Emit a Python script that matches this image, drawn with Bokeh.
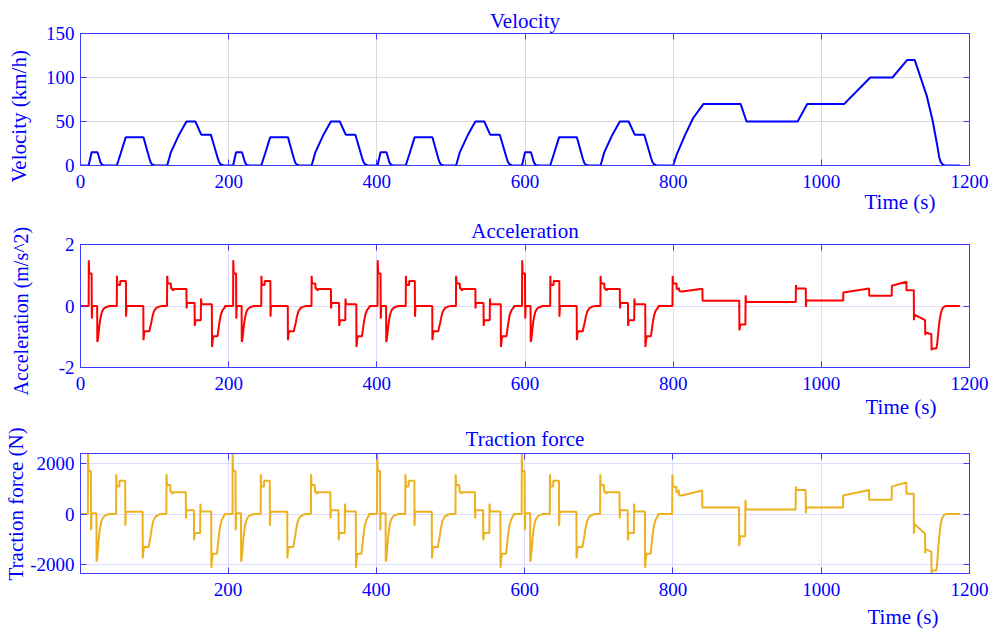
import numpy as np
from bokeh.plotting import figure
from bokeh.layouts import column
from bokeh.models import Range1d, FixedTicker, LinearAxis, Title
from bokeh.embed import file_html
from bokeh.resources import INLINE

# ---------------- data ----------------
ECE_STARTS = [0, 195, 390, 585]          # start of each urban (ECE-15) cycle, s

# velocity, km/h
ece_vel_t = [0, 11, 15, 23, 25.5, 27, 29, 31, 34, 49, 54, 61, 85, 93, 95, 97, 100, 104,
             117, 122, 133, 143, 155, 163, 176, 185, 187, 189, 192, 195]
ece_vel = [0, 0, 15, 15, 8, 3.5, 1, 0.2, 0, 0, 13, 32, 32, 8, 3, 1, 0.2, 0,
           0, 15, 35, 50, 50, 35, 35, 9, 4, 1.5, 0.3, 0]
eudc_vel_t = [780, 800, 805, 816, 827, 841, 891, 899, 968, 981, 1031, 1066, 1096, 1116, 1126,
              1142, 1150, 1156, 1159, 1161, 1164, 1167, 1187]
eudc_vel = [0, 0, 13, 34.5, 54, 70, 70, 50, 50, 70, 70, 100, 100, 120, 120,
            80, 52, 25, 10, 4, 1, 0, 0]

# acceleration, m/s^2
ece_acc_t = [0, 11, 11.2, 11.8, 15.0, 15.3, 15.9, 22.5, 22.7, 23.5, 24.5, 25.5, 26.5, 27.5, 29, 31, 34, 39,
             49, 49.2, 49.8, 53.5, 53.7, 61.3, 61.5, 62.2,
             84.8, 85, 86, 87, 93, 94, 95.5, 97, 99, 102, 106, 110,
             116.8, 117, 117.6, 122, 122.2, 124, 124.1, 126, 126.1, 143,
             143.2, 143.8, 154, 154.2, 155.2, 162.4, 162.7, 163.3, 177.3,
             177.5, 178.5, 179.5, 185, 186, 187.3, 188.5, 189.5, 191.5, 193.5, 195]
ece_acc = [0, 0, 1.49, 1.06, 1.06, -0.41, 0.0, 0.0, -1.17, -1.08, -0.86, -0.64, -0.47, -0.33, -0.19, -0.1, -0.04, 0.0,
           0.0, 0.98, 0.68, 0.68, 0.81, 0.81, -0.35, 0.0,
           0.0, -1.11, -0.88, -0.82, -0.82, -0.7, -0.55, -0.36, -0.18, -0.07, -0.02, 0.0,
           0.0, 0.98, 0.73, 0.73, 0.57, 0.57, 0.52, 0.52, 0.55, 0.55,
           -0.08, 0.1, 0.1, -0.65, -0.46, -0.46, 0.24, 0.06, 0.06,
           -1.33, -1.1, -0.98, -0.98, -0.8, -0.57, -0.4, -0.28, -0.15, -0.08, -0.04]
eudc_acc_t = [780, 799, 799.3, 800, 804.5, 804.7, 807.5, 807.7, 808.5, 812, 839.5, 839.7,
              889.2, 889.4, 890.8, 897.5, 897.8, 898.5, 965.5, 965.7, 966.5, 979, 979.2, 979.8,
              1029.5, 1029.7, 1064.5, 1064.7, 1095, 1095.2, 1114.8, 1115, 1124.8, 1125, 1125.6,
              1140, 1140.3, 1140.8, 1148.5, 1148.8, 1149.5, 1155.3, 1156.5, 1157.5, 1158.5,
              1160, 1161.5, 1163.5, 1166, 1168, 1187]
eudc_acc = [0, 0, 0.98, 0.73, 0.73, 0.55, 0.55, 0.6, 0.48, 0.47, 0.56, 0.17,
            0.17, -0.79, -0.6, -0.6, 0.35, 0.13, 0.13, 0.68, 0.57, 0.57, -0.03, 0.18,
            0.18, 0.44, 0.57, 0.33, 0.33, 0.66, 0.79, 0.51, 0.51, -0.46, -0.28,
            -0.46, -0.95, -0.86, -0.92, -1.44, -1.38, -1.38, -1.2, -0.95, -0.7,
            -0.41, -0.22, -0.08, -0.02, 0, 0]

# traction force, N
ece_force_t = ece_acc_t
ece_force = [0, 0, 2380, 1700, 1700, -640, 30, 30, -1880, -1730, -1380, -1030, -750, -530, -300, -160, -60, 0,
             0, 1570, 1090, 1090, 1310, 1310, -460, 90,
             90, -1750, -1400, -1300, -1300, -1120, -880, -580, -290, -110, -30, 0,
             0, 1570, 1140, 1140, 880, 880, 820, 820, 860, 860,
             -170, 155, 155, -1040, -750, -750, 410, 100, 100,
             -2120, -1750, -1560, -1560, -1280, -910, -640, -450, -240, -120, -60]
eudc_force_t = eudc_acc_t
eudc_force = [0, 0, 1570, 1080, 1080, 860, 860, 960, 735, 735, 926, 255,
              255, -1262, -876, -876, 564, 178, 178, 1081, 950, 950, 23, 255,
              255, 733, 950, 564, 564, 1081, 1247, 797, 797, -772, -386,
              -772, -1544, -1390, -1480, -2340, -2226, -2226, -1900, -1500, -1120,
              -650, -350, -130, -30, 0, 0]

time_ticks = [0, 200, 400, 600, 800, 1000, 1200]
vel_ticks = [0, 50, 100, 150]
vel_tick_labels = ["0", "50", "100", "150"]
acc_ticks = [-2, 0, 2]
acc_tick_labels = ["-2", "0", "2"]
force_ticks = [-2000, 0, 2000]
force_tick_labels = ["-2000", "0", "2000"]


def assemble(ece_t, ece_y, eudc_t, eudc_y):
    t, y = [], []
    for s in ECE_STARTS:
        t += [s + v for v in ece_t]
        y += list(ece_y)
    t += list(eudc_t)
    y += list(eudc_y)
    return t, y


FONT = "Liberation Serif"
TXT = "#0000ff"
AX = "#3c3cff"


def hidden_labels(ax):
    ax.major_label_text_font_size = "1px"
    ax.major_label_text_color = None


def panel(h, top, bottom, x0, y0, y1, yticks, ylabels, title, title_standoff,
          ylabel, ylab_size, ylab_offset, spacer, time_offset, time_standoff, grid_color):
    p = figure(width=994, height=h, output_backend="svg", toolbar_location=None,
               x_range=Range1d(x0, 1200), y_range=Range1d(y0, y1),
               min_border_top=top, min_border_bottom=bottom,
               min_border_left=80, min_border_right=25,
               background_fill_color="white", border_fill_color="white",
               outline_line_color=AX, title=title)
    p.title.align = "center"
    p.title.standoff = title_standoff
    p.title.text_font = FONT
    p.title.text_font_size = "21px"
    p.title.text_font_style = "normal"
    p.title.text_color = TXT
    top_ax = LinearAxis()
    right_ax = LinearAxis()
    p.add_layout(top_ax, "above")
    p.add_layout(right_ax, "right")
    for ax in list(p.xaxis) + list(p.yaxis):
        ax.axis_line_color = AX
        ax.major_tick_line_color = AX
        ax.major_tick_in = 6
        ax.major_tick_out = 0
        ax.minor_tick_line_color = None
        ax.major_label_text_font = FONT
        ax.major_label_text_font_size = "19px"
        ax.major_label_text_color = TXT
    for ax in p.xaxis:
        ax.ticker = FixedTicker(ticks=time_ticks)
        ax.major_label_standoff = 9
    for ax in p.yaxis:
        ax.ticker = FixedTicker(ticks=yticks)
        ax.major_label_standoff = 6
        ax.major_label_overrides = {float(k): s for k, s in zip(yticks, ylabels)}
    for ax in [top_ax, right_ax]:
        hidden_labels(ax)
        ax.major_label_standoff = 0
    # invisible spacer between the tick labels and the y-axis title
    if spacer > 0:
        sp = LinearAxis(ticker=FixedTicker(ticks=yticks), axis_line_color=None,
                        major_tick_line_color=None, minor_tick_line_color=None,
                        major_tick_in=0, major_tick_out=spacer, major_label_standoff=0)
        hidden_labels(sp)
        p.add_layout(sp, "left")
    p.xgrid.ticker = FixedTicker(ticks=time_ticks)
    p.ygrid.ticker = FixedTicker(ticks=yticks)
    p.grid.grid_line_color = grid_color
    p.grid.grid_line_width = 1
    p.add_layout(Title(text=ylabel, align="left", offset=ylab_offset, standoff=0,
                       text_font=FONT, text_font_size=ylab_size,
                       text_font_style="normal", text_color=TXT), "left")
    p.add_layout(Title(text="Time (s)", align="right", offset=time_offset, standoff=time_standoff,
                       text_font=FONT, text_font_size="21px", text_font_style="normal",
                       text_color=TXT), "below")
    return p


t_v, v = assemble(ece_vel_t, ece_vel, eudc_vel_t, eudc_vel)
t_a, a = assemble(ece_acc_t, ece_acc, eudc_acc_t, eudc_acc)
t_f, f = assemble(ece_force_t, ece_force, eudc_force_t, eudc_force)

p1 = panel(214, 33, 49, 0, 0, 150, vel_ticks, vel_tick_labels,
           "Velocity", 1, "Velocity (km/h)", "21px", -17, 12, 34, -6, "#dadada")
p1.line(t_v, v, line_color="#0000ff", line_width=2)

p2 = panel(208, 30, 55, 0, -2, 2, acc_ticks, acc_tick_labels,
           "Acceleration", 4, "Acceleration (m/s^2)", "20px", -28, 24, 33, 0, "#dcdcff")
p2.line(t_a, a, line_color="#ff0000", line_width=2)

p3 = panel(214, 30, 63, 1, -2340, 2385, force_ticks, force_tick_labels,
           "Traction force", 5, "Traction force (N)", "21px", -7, 0, 31, 9, "#dcdcff")
p3.line(t_f, f, line_color="#EDB120", line_width=2)

layout = column(p1, p2, p3, spacing=0)
open("out.html", "w").write(file_html(layout, INLINE))
